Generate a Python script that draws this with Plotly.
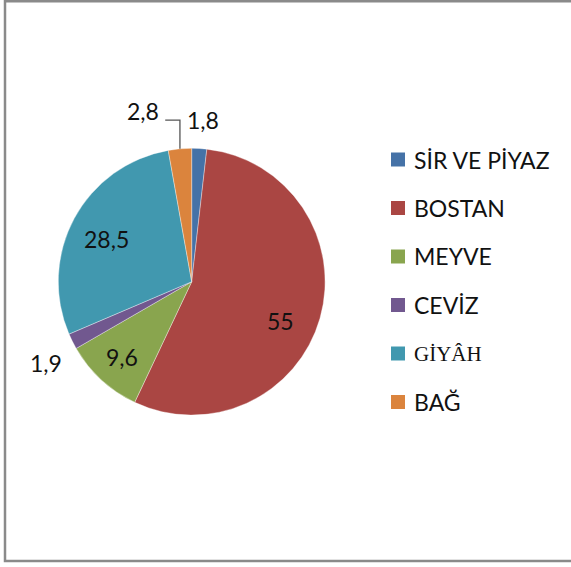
import math

import plotly.graph_objects as go

W, H = 571, 567

labels = ["SİR VE PİYAZ", "BOSTAN", "MEYVE", "CEVİZ", "GİYÂH", "BAĞ"]
values = [1.8, 55, 9.6, 1.9, 28.5, 2.8]
colors = ["#4572A7", "#AA4643", "#89A54E", "#71588F", "#4198AF", "#DB843D"]

# label placement per slice: radius factor and angle nudge (deg)
label_radius = [1.215, 0.73, 0.77, 1.25, 0.71, 1.33]
label_nudge = [0.6, 7.8, 0.2, -2.6, -1.9, -10.8]
legend_fonts = ["Lato", "Lato", "Lato", "Lato", "Liberation Serif", "Lato"]

# pie geometry in pixels
cx, cy, r = 191.7, 281.7, 133.4


def px_x(x):
    return x / W


def px_y(y):
    return 1 - y / H


fig = go.Figure(
    go.Pie(
        labels=labels,
        values=values,
        marker=dict(colors=colors, line=dict(color="rgba(255,255,255,0.6)", width=0.6)),
        sort=False,
        direction="clockwise",
        rotation=0,
        textinfo="none",
        hoverinfo="label+value",
        showlegend=False,
        domain=dict(
            x=[px_x(cx - r), px_x(cx + r)],
            y=[px_y(cy + r), px_y(cy - r)],
        ),
    )
)

total = sum(values)
annotations = []
shapes = []
start = 0.0
for i, v in enumerate(values):
    span = v / total * 360
    mid = start + span / 2
    start += span
    ang = math.radians(mid + label_nudge[i])
    lx = cx + r * label_radius[i] * math.sin(ang)
    ly = cy - r * label_radius[i] * math.cos(ang)
    annotations.append(dict(
        x=px_x(lx), y=px_y(ly), xref="paper", yref="paper",
        text=f"{v:g}".replace(".", ","), showarrow=False,
        xanchor="center", yanchor="middle",
        font=dict(family="Lato", size=23, color="#111111"),
    ))
    if i == len(values) - 1:
        # leader line: up from slice edge, then left to the label
        m = math.radians(mid)
        sx = cx + r * math.sin(m)
        sy = cy - r * math.cos(m)
        ey = ly + 9
        ex = lx + 22
        shapes.append(dict(
            type="path", xref="paper", yref="paper",
            path=f"M {px_x(sx)},{px_y(sy)} L {px_x(sx)},{px_y(ey)} L {px_x(ex)},{px_y(ey)}",
            line=dict(color="#555555", width=1.3),
        ))

# legend drawn by hand to get Excel-like spacing
for i, (lab, col) in enumerate(zip(labels, colors)):
    yc = 159.5 + i * 48.5
    shapes.append(dict(
        type="rect", xref="paper", yref="paper",
        x0=px_x(391), x1=px_x(405), y0=px_y(yc - 7), y1=px_y(yc + 7),
        fillcolor=col, line=dict(width=0),
    ))
    annotations.append(dict(
        x=px_x(412), y=px_y(yc), xref="paper", yref="paper",
        text=lab, showarrow=False, xanchor="left", yanchor="middle",
        font=dict(family=legend_fonts[i], size=23 if legend_fonts[i] == "Lato" else 21,
                  color="#111111"),
    ))

# chart frame
shapes.append(dict(
    type="rect", xref="paper", yref="paper",
    x0=px_x(5), x1=1.02, y0=px_y(561), y1=px_y(1.2),
    line=dict(color="#8a8a8a", width=2.5),
))

fig.update_layout(
    width=W, height=H,
    margin=dict(l=0, r=0, t=0, b=0),
    paper_bgcolor="white",
    plot_bgcolor="white",
    annotations=annotations,
    shapes=shapes,
)

fig.write_html(
    "out.html",
    config={"displayModeBar": False},
    post_script="document.body.style.margin='0';document.body.style.overflow='hidden';",
)
